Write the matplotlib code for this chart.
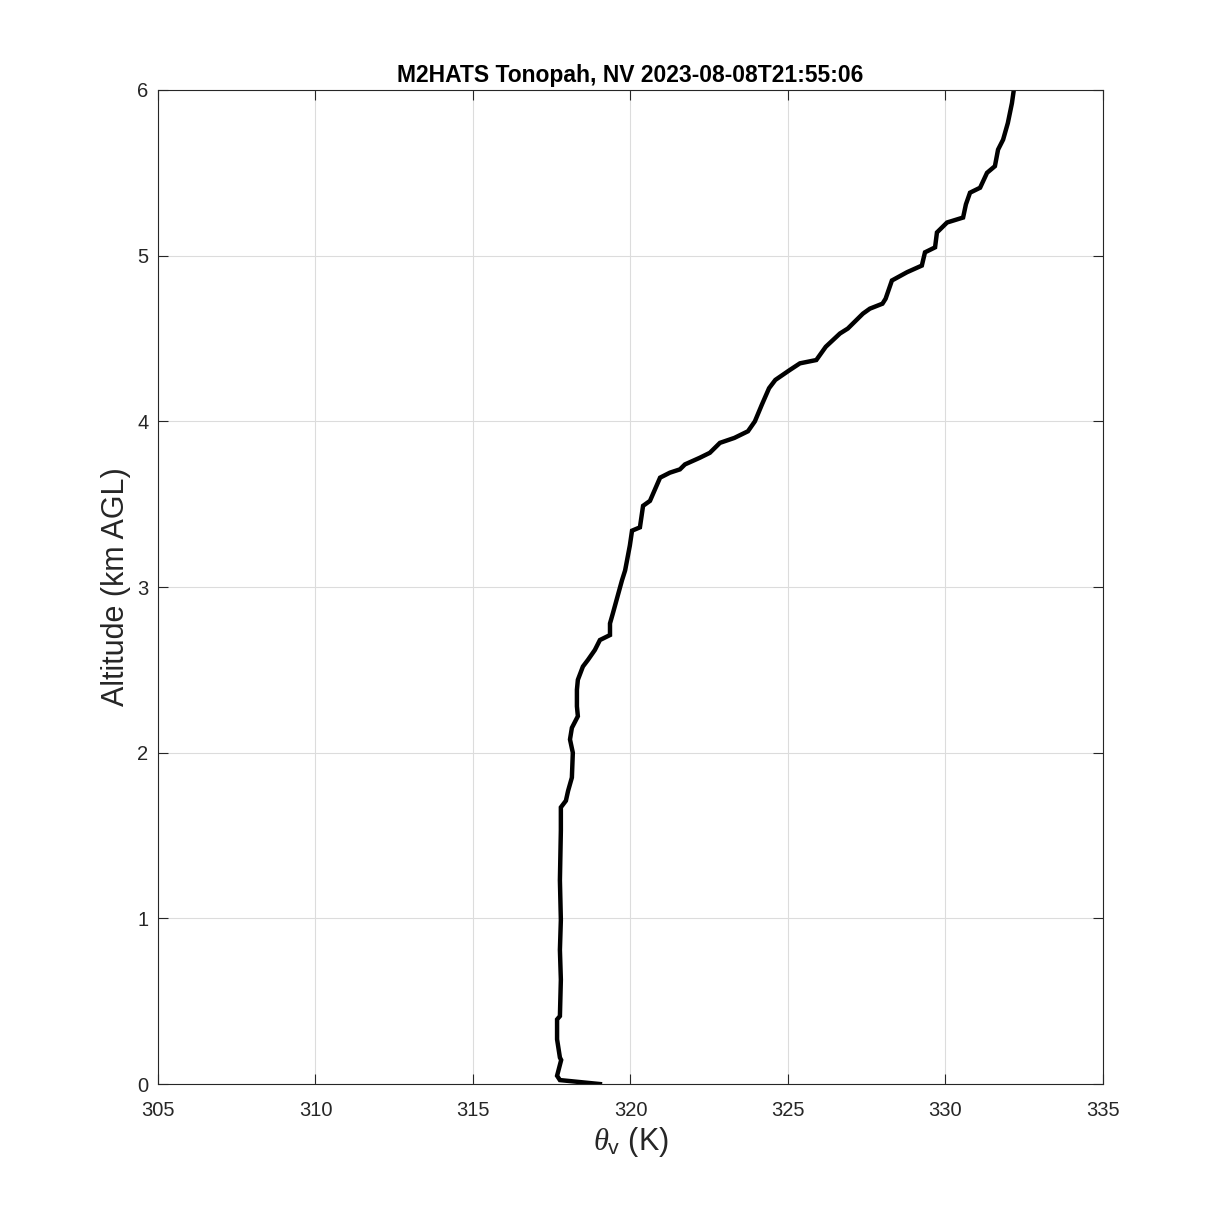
import numpy as np
import matplotlib
matplotlib.use("Agg")
import matplotlib.pyplot as plt

plt.rcParams['font.family'] = ['Liberation Sans', 'DejaVu Sans']
plt.rcParams['mathtext.fontset'] = 'custom'
plt.rcParams['mathtext.rm'] = 'Liberation Sans'
plt.rcParams['mathtext.it'] = 'Liberation Serif:italic'

# Virtual potential temperature profile (K) vs altitude (km AGL)
theta_v = [319.03, 317.76, 317.67, 317.80, 317.76, 317.67, 317.67, 317.76, 317.79,
           317.76, 317.79, 317.76, 317.79, 317.79, 317.95, 318.02, 318.14, 318.17,
           318.08, 318.14, 318.33, 318.30, 318.30, 318.33, 318.49, 318.65, 318.87,
           319.03, 319.35, 319.35, 319.44, 319.73, 319.83, 319.98, 320.05, 320.30,
           320.40, 320.62, 320.78, 320.94, 321.25, 321.57, 321.73, 322.20, 322.52,
           322.84, 323.30, 323.73, 323.95, 324.17, 324.40, 324.60, 325.06, 325.38,
           325.90, 326.20, 326.65, 326.90, 327.38, 327.60, 328.00, 328.10, 328.30,
           328.78, 329.25, 329.35, 329.67, 329.73, 330.05, 330.56, 330.65, 330.78,
           331.10, 331.32, 331.57, 331.67, 331.83, 331.98, 332.11, 332.17]
alt_km = [0.00, 0.024, 0.05, 0.145, 0.16, 0.27, 0.39, 0.41, 0.63,
          0.81, 0.99, 1.23, 1.53, 1.67, 1.71, 1.77, 1.85, 2.00,
          2.08, 2.15, 2.22, 2.28, 2.38, 2.44, 2.52, 2.56, 2.62,
          2.68, 2.71, 2.78, 2.84, 3.04, 3.10, 3.25, 3.34, 3.36,
          3.49, 3.52, 3.59, 3.66, 3.69, 3.71, 3.74, 3.78, 3.81,
          3.87, 3.90, 3.94, 4.00, 4.10, 4.20, 4.25, 4.31, 4.35,
          4.37, 4.45, 4.53, 4.56, 4.65, 4.68, 4.71, 4.74, 4.85,
          4.90, 4.94, 5.02, 5.05, 5.14, 5.20, 5.23, 5.31, 5.38,
          5.41, 5.50, 5.54, 5.64, 5.70, 5.80, 5.92, 6.00]

title = "M2HATS Tonopah, NV 2023-08-08T21:55:06"

fig = plt.figure(figsize=(12.19, 12.19), dpi=100)
ax = fig.add_axes([0.1296, 0.1107, 0.7752, 0.8155])

ax.plot(theta_v, alt_km, color='black', linewidth=3.2, solid_joinstyle='miter')

ax.set_xlim(305, 335)
ax.set_ylim(0, 6)
ax.set_xticks(np.arange(305, 336, 5))
ax.set_yticks(np.arange(0, 7, 1))
ax.grid(True, color='#dcdcdc', linewidth=0.8)
ax.set_axisbelow(True)
ax.tick_params(direction='in', top=True, right=True, length=7, width=0.8,
               labelsize=14.5, colors='#262626', labelcolor='#262626')
ax.tick_params(axis='x', pad=12)
ax.tick_params(axis='y', pad=7)
for s in ax.spines.values():
    s.set_color('#262626')
    s.set_linewidth(0.8)

ax.set_xlabel(r'$\theta_{\mathrm{v}}$ (K)', fontsize=22, color='#262626', labelpad=4)
ax.set_ylabel('Altitude (km AGL)', fontsize=22, color='#262626')
ax.set_title(title, fontsize=16.5, fontweight='bold', pad=6)

fig.savefig("out.png", dpi=100)
